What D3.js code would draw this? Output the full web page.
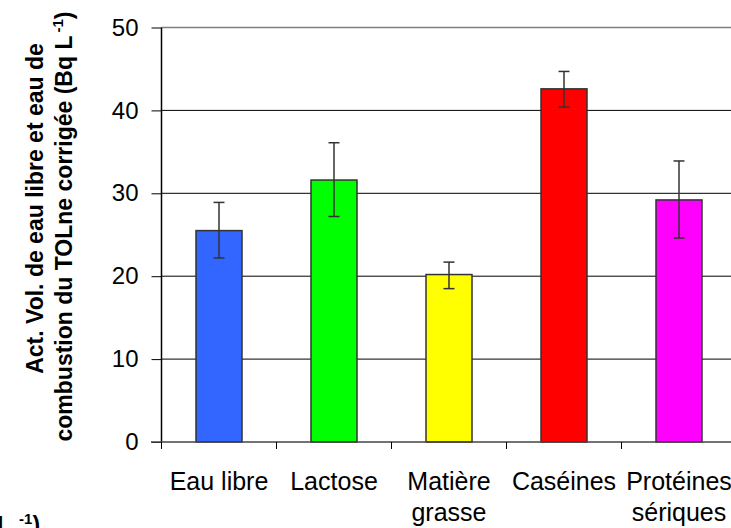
<!DOCTYPE html>
<html><head><meta charset="utf-8">
<script src="https://cdn.jsdelivr.net/npm/d3@7"></script>
<style>body{margin:0;background:#fff}svg{display:block}text{font-family:Arial,"Liberation Sans",sans-serif}</style>
</head><body>
<svg id="c" width="731" height="528"></svg>
<script>
const categories = ["Eau libre","Lactose","Matière grasse","Caséines","Protéines sériques"];
const labelLines = [["Eau libre"],["Lactose"],["Matière","grasse"],["Caséines"],["Protéines","sériques"]];
const values = [25.5, 31.6, 20.2, 42.6, 29.2];
const errLow = [22.2, 27.2, 18.5, 40.4, 24.6];
const errHigh = [28.9, 36.1, 21.7, 44.7, 33.9];
const colors = ["#3366FF","#00FF00","#FFFF00","#FF0000","#FF00FF"];
const yTicks = [0,10,20,30,40,50];

const svg = d3.select("#c");
const pLeft = 161.5, bandW = 115, pTop = 27.5, pBottom = 442;
const x = d3.scaleBand().domain(categories).range([pLeft, pLeft + bandW*5]).paddingInner(0.6).paddingOuter(0.3);
const y = d3.scaleLinear().domain([0,50]).range([pBottom, pTop]);

// gridlines
svg.append("g").selectAll("line").data(yTicks.filter(d=>d>0)).join("line")
  .attr("x1", pLeft).attr("x2", 731).attr("y1", d=>y(d)).attr("y2", d=>y(d))
  .attr("stroke", d=> d===50 ? "#808080" : "#000").attr("stroke-width", d=> d===50 ? 1.5 : 1);

// bars
svg.append("g").selectAll("rect").data(categories).join("rect")
  .attr("x", d=>x(d)).attr("width", x.bandwidth())
  .attr("y", (d,i)=>y(values[i])).attr("height", (d,i)=>y(0)-y(values[i]))
  .attr("fill", (d,i)=>colors[i]).attr("stroke", "#333").attr("stroke-width", 1.5);

// error bars
const eg = svg.append("g").attr("stroke", "#333").attr("stroke-width", 1.5);
categories.forEach((c,i)=>{
  const cx = x(c) + x.bandwidth()/2;
  eg.append("line").attr("x1",cx).attr("x2",cx).attr("y1",y(errLow[i])).attr("y2",y(errHigh[i]));
  eg.append("line").attr("x1",cx-5.5).attr("x2",cx+5.5).attr("y1",y(errLow[i])).attr("y2",y(errLow[i]));
  eg.append("line").attr("x1",cx-5.5).attr("x2",cx+5.5).attr("y1",y(errHigh[i])).attr("y2",y(errHigh[i]));
});

// y axis
const ya = svg.append("g").attr("transform", `translate(${pLeft},0)`)
  .call(d3.axisLeft(y).tickValues(yTicks).tickSize(10).tickPadding(13));
ya.select(".domain").attr("stroke","#000").attr("stroke-width",1.5).attr("d", `M0,${pTop}V${pBottom}`);
ya.selectAll(".tick line").attr("stroke","#000").attr("stroke-width",1);
ya.selectAll(".tick text").attr("font-size", 24).attr("font-family","Arial, 'Liberation Sans', sans-serif").attr("fill","#000");

// x axis
const xa = svg.append("g").attr("transform", `translate(0,${pBottom})`);
xa.append("line").attr("x1", 151).attr("x2", 731).attr("stroke","#444").attr("stroke-width",1.5);
const bounds = d3.range(6).map(i=> pLeft + i*bandW);
xa.selectAll(".bt").data(bounds).join("line").attr("class","bt")
  .attr("x1", d=>d).attr("x2", d=>d).attr("y1",0).attr("y2",7).attr("stroke","#000");
xa.selectAll(".lbl").data(categories).join("text").attr("class","lbl")
  .attr("x", d=> x(d)+x.bandwidth()/2).attr("y", 48)
  .attr("text-anchor","middle").attr("font-size",25).attr("fill","#000")
  .each(function(d,i){
    const t = d3.select(this);
    labelLines[i].forEach((ln,j)=>{
      t.append("tspan").attr("x", x(d)+x.bandwidth()/2).attr("dy", j===0?0:31).text(ln);
    });
  });

// y title
const t1 = svg.append("text").attr("transform",`translate(43,208.5) rotate(-90)`)
  .attr("text-anchor","middle").attr("font-size",23).attr("font-weight","bold").text("Act. Vol. de eau libre et eau de");
const t2 = svg.append("text").attr("transform",`translate(72,226.5) rotate(-90)`)
  .attr("text-anchor","middle").attr("font-size",23).attr("font-weight","bold");
t2.append("tspan").text("combustion du TOLne corrigée (Bq L");
t2.append("tspan").attr("font-size",15).attr("dx",3).attr("dy",-9).text("-1");
t2.append("tspan").attr("dy",9).text(")");

// cut-off fragment bottom-left
const f = svg.append("text").attr("x", -3).attr("y", 533).attr("font-size",23).attr("font-weight","bold");
f.append("tspan").text("L");
f.append("tspan").attr("font-size",15).attr("dx",8).attr("dy",-9).text("-1");
f.append("tspan").attr("dy",9).text(")");
</script>
</body></html>
